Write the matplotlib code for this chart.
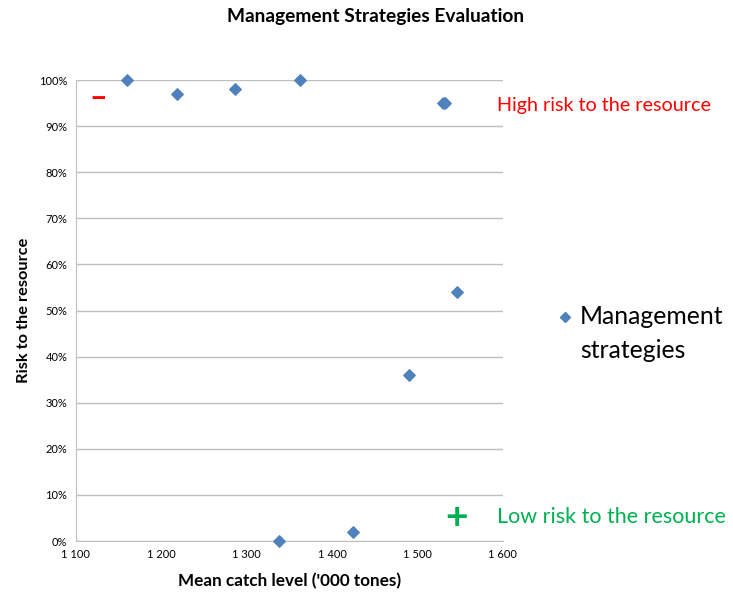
import matplotlib
matplotlib.use("Agg")
import matplotlib.pyplot as plt
from matplotlib.ticker import FuncFormatter

plt.rcParams['font.family'] = ['Lato', 'DejaVu Sans']

# Valori
catch = [1160, 1219, 1286, 1363, 1530, 1532, 1546, 1490, 1425, 1338]
risk = [100, 97, 98, 100, 95, 95, 54, 36, 2, 0]

x_ticks = [1100, 1200, 1300, 1400, 1500, 1600]
y_ticks = list(range(0, 101, 10))

blue = "#4F81BD"

fig = plt.figure(figsize=(7.33, 5.94), dpi=100)
ax = fig.add_axes([0.1033, 0.0892, 0.5828, 0.7761])

ax.grid(True, axis="y", color="#BFBFBF", linewidth=1.0, zorder=0)
ax.scatter(catch, risk, marker="D", s=34, color=blue, zorder=3, clip_on=False)

ax.set_xlim(1100, 1600)
ax.set_ylim(0, 100)
ax.set_xticks(x_ticks)
ax.set_yticks(y_ticks)
ax.xaxis.set_major_formatter(FuncFormatter(lambda v, p: f"{int(v):,}".replace(",", " ")))
ax.yaxis.set_major_formatter(FuncFormatter(lambda v, p: f"{int(v)}%"))
ax.tick_params(axis="both", labelsize=8, length=0, pad=6)

for s in ["top", "right"]:
    ax.spines[s].set_visible(False)
for s in ["left", "bottom"]:
    ax.spines[s].set_color("#BFBFBF")

ax.set_xlabel("Mean catch level ('000 tones)", fontsize=12.3, fontweight="bold", labelpad=9)
ax.set_ylabel("Risk to the resource", fontsize=11.8, fontweight="bold", labelpad=6)
fig.suptitle("Management Strategies Evaluation", fontsize=13.8, fontweight="bold",
             x=0.512, y=0.986)

# Simboli rischio alto/basso
ax.text(1126, 96, "\u2013", color="red", fontsize=22, fontweight="bold",
        ha="center", va="center")
ax.text(1546, 5, "+", color="#00B050", fontsize=28, fontweight="bold",
        ha="center", va="center")
fig.text(0.678, 0.822, "High risk to the resource", color="red", fontsize=14.2,
         ha="left", va="center")
fig.text(0.678, 0.129, "Low risk to the resource", color="#00B050", fontsize=15.5,
         ha="left", va="center")

# Legenda manuale
fig.lines.append(plt.Line2D([565 / 733], [1 - 317 / 594], marker="D", markersize=5.5,
                            color=blue, linestyle="none", transform=fig.transFigure))
fig.text(580 / 733, 1 - 317 / 594, "Management", fontsize=17.8, ha="left", va="center")
fig.text(580 / 733, 1 - 350 / 594, "strategies", fontsize=17.8, ha="left", va="center")

fig.savefig("out.png", dpi=100, facecolor="white")
